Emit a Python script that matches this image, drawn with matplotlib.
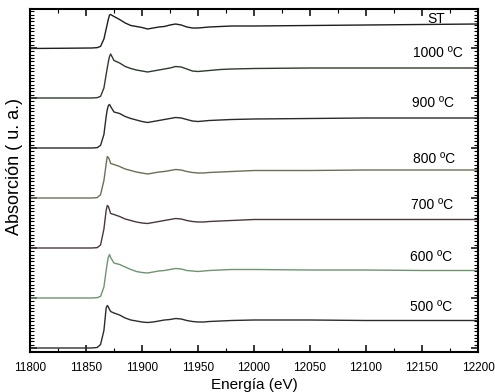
import numpy as np
import matplotlib
matplotlib.use("Agg")
import matplotlib.pyplot as plt
from matplotlib.ticker import MultipleLocator, NullFormatter

plt.rcParams['font.family'] = ['Liberation Sans', 'DejaVu Sans']

# energy grid (eV) the spectra were read at
energy = [11800, 11830, 11855, 11860, 11863, 11866, 11868, 11869, 11870, 11871,
          11872, 11875, 11880, 11885, 11890, 11895, 11900, 11905, 11910, 11915,
          11920, 11925, 11930, 11935, 11940, 11945, 11950, 11955, 11960, 11970,
          11980, 12000, 12050, 12100, 12150, 12200]

# normalised absorption of each sample (baseline = 0)
st = [-0.01, -0.005, 0, 0.007, 0.033, 0.18, 0.38, 0.48, 0.58, 0.66,
      0.67, 0.63, 0.57, 0.5, 0.45, 0.43, 0.41, 0.38, 0.4, 0.42,
      0.43, 0.46, 0.48, 0.46, 0.42, 0.4, 0.4, 0.41, 0.42, 0.43,
      0.44, 0.44, 0.45, 0.46, 0.47, 0.48]
t1000 = [0, 0, 0, 0.007, 0.033, 0.2, 0.47, 0.6, 0.73, 0.83,
         0.88, 0.75, 0.7, 0.63, 0.59, 0.56, 0.54, 0.52, 0.54, 0.56,
         0.58, 0.6, 0.63, 0.62, 0.58, 0.54, 0.53, 0.54, 0.55, 0.57,
         0.58, 0.59, 0.6, 0.6, 0.6, 0.6]
t900 = [0, 0, 0, 0.007, 0.053, 0.27, 0.63, 0.77, 0.85, 0.87,
        0.83, 0.72, 0.69, 0.63, 0.59, 0.56, 0.53, 0.51, 0.53, 0.55,
        0.57, 0.59, 0.61, 0.6, 0.57, 0.54, 0.53, 0.54, 0.55, 0.56,
        0.57, 0.58, 0.59, 0.6, 0.6, 0.6]
t800 = [0, 0, 0, 0.007, 0.067, 0.35, 0.68, 0.83, 0.81, 0.76,
        0.69, 0.67, 0.63, 0.58, 0.55, 0.52, 0.5, 0.48, 0.5, 0.52,
        0.53, 0.55, 0.57, 0.56, 0.53, 0.51, 0.5, 0.5, 0.51, 0.52,
        0.53, 0.55, 0.55, 0.56, 0.56, 0.56]
t700 = [0, 0, 0, 0.007, 0.06, 0.38, 0.75, 0.85, 0.83, 0.76,
        0.69, 0.67, 0.63, 0.58, 0.55, 0.52, 0.5, 0.49, 0.51, 0.53,
        0.55, 0.57, 0.59, 0.58, 0.55, 0.53, 0.52, 0.52, 0.53, 0.54,
        0.55, 0.57, 0.57, 0.57, 0.57, 0.57]
t600 = [0, 0, 0, 0.007, 0.033, 0.22, 0.55, 0.7, 0.82, 0.87,
        0.81, 0.7, 0.67, 0.62, 0.57, 0.53, 0.51, 0.5, 0.52, 0.54,
        0.55, 0.57, 0.59, 0.58, 0.55, 0.54, 0.53, 0.54, 0.55, 0.56,
        0.57, 0.57, 0.56, 0.56, 0.55, 0.55]
t500 = [0, 0, 0, 0.01, 0.07, 0.35, 0.8, 0.85, 0.82, 0.77,
        0.73, 0.7, 0.66, 0.6, 0.56, 0.54, 0.52, 0.51, 0.52, 0.54,
        0.56, 0.57, 0.59, 0.58, 0.55, 0.53, 0.52, 0.52, 0.53, 0.54,
        0.55, 0.56, 0.56, 0.55, 0.55, 0.55]

spectra = [st, t1000, t900, t800, t700, t600, t500]
labels = ['ST', '1000 ºC', '900 ºC', '800 ºC', '700 ºC', '600 ºC', '500 ºC']
offsets = [6, 5, 4, 3, 2, 1, 0]

colors = ['#1e1e1e', '#2e3a2e', '#2a2a2a', '#6e6e58', '#4a3838', '#6f9470', '#2c2c2c']
label_x = [12163, 12186, 12179, 12180, 12178, 12177, 12177]
label_y = [6.58, 5.9, 4.9, 3.78, 2.86, 1.82, 0.82]

fig = plt.figure(figsize=(4.95, 3.92), dpi=100)
ax = fig.add_axes([30 / 495, 40 / 392, 448 / 495, 343 / 392])

for y, off, c in zip(spectra, offsets, colors):
    ax.plot(energy, np.array(y) + off, color=c, lw=1.0)

for i, lab in enumerate(labels):
    ha = 'center' if lab == 'ST' else 'right'
    ax.text(label_x[i], label_y[i], lab, ha=ha, va='center', fontsize=10)

ax.set_xlim(11800, 12200)
ax.set_ylim(-0.08, 6.78)

ax.xaxis.set_major_locator(MultipleLocator(50))
ax.xaxis.set_minor_locator(MultipleLocator(25))
ax.yaxis.set_major_locator(MultipleLocator(1))
ax.yaxis.set_minor_locator(MultipleLocator(1 / 15))
ax.yaxis.set_major_formatter(NullFormatter())

ax.tick_params(axis='both', which='major', direction='in', top=True, right=True,
               length=5, width=1.1, labelsize=8.5)
ax.tick_params(axis='x', which='major', pad=7)
ax.tick_params(axis='both', which='minor', direction='in', top=True, right=True,
               length=3, width=0.8)
ax.tick_params(axis='y', which='both', left=True, right=True)

for s in ax.spines.values():
    s.set_linewidth(1.5)

ax.set_xlabel('Energía (eV)', fontsize=11, labelpad=3)
ax.set_ylabel('Absorción ( u. a.)', fontsize=13)
ax.yaxis.set_label_coords(-0.016, 0.54)

fig.savefig('out.png', dpi=100)
